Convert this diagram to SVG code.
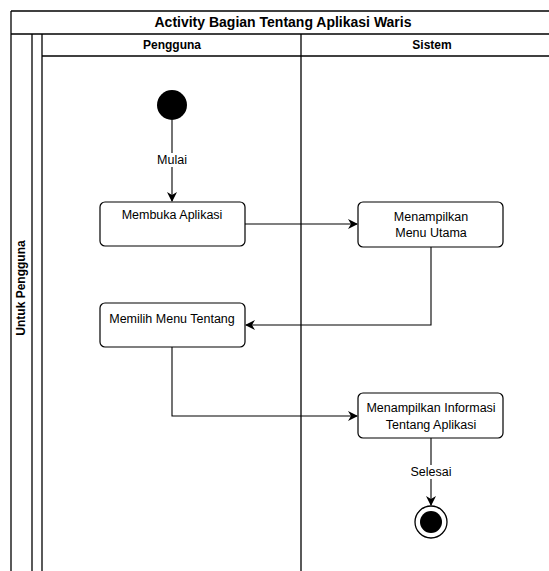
<svg xmlns="http://www.w3.org/2000/svg" width="549" height="571" viewBox="0 0 549 571">
  <style>
    .frame { fill: none; stroke: #000; stroke-width: 1.3; }
    .title { font-family: "Liberation Sans", Arial, sans-serif; font-size: 14px; font-weight: bold; fill: #000; text-anchor: middle; }
    .lane { font-family: "Liberation Sans", Arial, sans-serif; font-size: 12px; font-weight: bold; fill: #000; text-anchor: middle; }
    .node rect { fill: #fff; stroke: #000; stroke-width: 1.2; }
    .node text, .lbl { font-family: "Liberation Sans", Arial, sans-serif; font-size: 12.5px; fill: #000; text-anchor: middle; }
    .edge { fill: none; stroke: #000; stroke-width: 1.1; }
    .lblbg { fill: #fff; }
  </style>
  <defs>
    <marker id="arrow" viewBox="0 0 10 10" refX="9" refY="5" markerWidth="10" markerHeight="10" markerUnits="userSpaceOnUse" orient="auto">
      <path d="M0,0 L10,5 L0,10 L3,5 Z" fill="#000"/>
    </marker>
  </defs>
  <rect width="549" height="571" fill="#fff"/>

  <!-- pool and swimlanes -->
  <g id="pool">
    <line class="frame" x1="11" y1="11" x2="560" y2="11"/>
    <line class="frame" x1="11" y1="11" x2="11" y2="571"/>
    <line class="frame" x1="11" y1="34" x2="560" y2="34"/>
    <line class="frame" x1="32" y1="34" x2="32" y2="571"/>
    <line class="frame" x1="42" y1="34" x2="42" y2="571"/>
    <line class="frame" x1="42" y1="56" x2="560" y2="56"/>
    <line class="frame" x1="301" y1="34" x2="301" y2="571"/>
    <text class="title" x="283" y="27">Activity Bagian Tentang Aplikasi Waris</text>
    <text class="lane" x="172" y="49">Pengguna</text>
    <text class="lane" x="432" y="49">Sistem</text>
    <text class="lane" transform="translate(25,288) rotate(-90)">Untuk Pengguna</text>
  </g>

  <!-- connectors -->
  <g id="connectors">
    <path class="edge" d="M172,120 L172,201" marker-end="url(#arrow)"/>
    <rect class="lblbg" x="156" y="153" width="32" height="14"/>
    <text class="lbl" x="172" y="164">Mulai</text>
    <path class="edge" d="M245,224 L357,224" marker-end="url(#arrow)"/>
    <path class="edge" d="M431,247 L431,325 L246,325" marker-end="url(#arrow)"/>
    <path class="edge" d="M172,347 L172,416 L357,416" marker-end="url(#arrow)"/>
    <path class="edge" d="M431,438 L431,505" marker-end="url(#arrow)"/>
    <rect class="lblbg" x="410" y="465" width="42" height="14"/>
    <text class="lbl" x="431" y="476">Selesai</text>
  </g>

  <!-- nodes -->
  <g id="start">
    <circle cx="172" cy="105" r="15" fill="#000"/>
  </g>
  <g id="membuka-aplikasi" class="node">
    <rect x="100" y="202" width="145" height="44" rx="5"/>
    <text x="172" y="219">Membuka Aplikasi</text>
  </g>
  <g id="menampilkan-menu-utama" class="node">
    <rect x="358" y="202" width="145" height="45" rx="5"/>
    <text x="431" y="221">Menampilkan</text>
    <text x="431" y="237">Menu Utama</text>
  </g>
  <g id="memilih-menu-tentang" class="node">
    <rect x="100" y="303" width="145" height="44" rx="5"/>
    <text x="172" y="323">Memilih Menu Tentang</text>
  </g>
  <g id="menampilkan-informasi" class="node">
    <rect x="358" y="393" width="145" height="45" rx="5"/>
    <text x="431" y="412">Menampilkan Informasi</text>
    <text x="431" y="429">Tentang Aplikasi</text>
  </g>
  <g id="end">
    <circle cx="431" cy="522" r="16" fill="#fff" stroke="#000" stroke-width="1.3"/>
    <circle cx="431" cy="522" r="11" fill="#000"/>
  </g>
</svg>
